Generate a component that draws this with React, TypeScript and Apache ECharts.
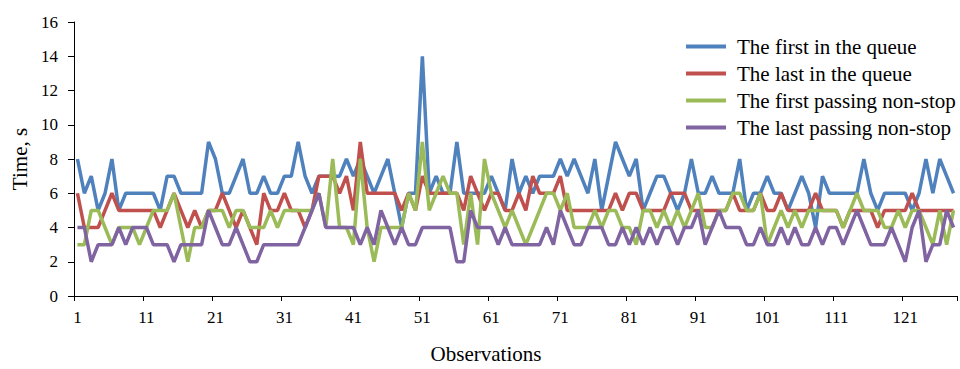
import React, { useEffect, useRef } from "react";
import * as echarts from "echarts";

const seriesNames = [
  "The first in the queue",
  "The last in the queue",
  "The first passing non-stop",
  "The last passing non-stop",
];

const observations = Array.from({ length: 128 }, (_, i) => String(i + 1));

const firstInQueue = [
  8, 6, 7, 5, 6, 8, 5, 6, 6, 6,
  6, 6, 5, 7, 7, 6, 6, 6, 6, 9,
  8, 6, 6, 7, 8, 6, 6, 7, 6, 6,
  7, 7, 9, 7, 6, 7, 7, 7, 7, 8,
  7, 8, 7, 6, 7, 8, 6, 4, 6, 6,
  14, 6, 7, 6, 6, 9, 6, 6, 6, 6,
  7, 6, 5, 8, 6, 7, 6, 7, 7, 7,
  8, 7, 8, 7, 6, 8, 5, 7, 9, 8,
  7, 8, 5, 6, 7, 7, 6, 5, 6, 8,
  6, 6, 7, 6, 6, 6, 8, 5, 6, 6,
  7, 6, 6, 5, 6, 7, 6, 4, 7, 6,
  6, 6, 6, 6, 8, 6, 5, 6, 6, 6,
  6, 5, 6, 8, 6, 8, 7, 6,
];

const lastInQueue = [
  6, 4, 4, 4, 5, 6, 5, 5, 5, 5,
  5, 5, 4, 5, 6, 5, 4, 5, 4, 5,
  5, 6, 5, 4, 5, 4, 3, 6, 5, 5,
  6, 5, 5, 4, 5, 7, 7, 7, 6, 7,
  5, 9, 6, 6, 6, 6, 6, 5, 6, 5,
  7, 6, 6, 6, 6, 6, 5, 7, 6, 5,
  6, 6, 5, 5, 6, 5, 7, 6, 6, 6,
  7, 5, 5, 5, 5, 5, 5, 5, 6, 5,
  6, 6, 5, 5, 5, 5, 6, 6, 6, 5,
  5, 5, 5, 5, 5, 6, 5, 5, 5, 6,
  5, 5, 6, 5, 5, 5, 5, 6, 5, 5,
  5, 4, 5, 5, 5, 5, 4, 5, 5, 5,
  5, 6, 5, 5, 5, 5, 5, 5,
];

const firstPassing = [
  3, 3, 5, 5, 4, 3, 4, 4, 4, 3,
  4, 5, 5, 5, 6, 4, 2, 4, 4, 5,
  5, 5, 4, 5, 5, 4, 4, 4, 5, 4,
  5, 5, 5, 5, 5, 6, 4, 8, 4, 4,
  3, 8, 4, 2, 4, 4, 4, 4, 6, 5,
  9, 5, 6, 7, 6, 6, 3, 6, 3, 8,
  6, 5, 4, 5, 4, 3, 4, 5, 6, 6,
  5, 6, 4, 4, 4, 5, 4, 5, 5, 4,
  4, 3, 5, 5, 4, 5, 4, 5, 4, 5,
  6, 4, 4, 5, 5, 6, 6, 5, 5, 6,
  3, 4, 5, 4, 5, 4, 5, 5, 5, 5,
  5, 4, 5, 6, 5, 5, 5, 4, 4, 5,
  4, 5, 5, 4, 3, 5, 3, 5,
];

const lastPassing = [
  4, 4, 2, 3, 3, 3, 4, 3, 4, 4,
  4, 3, 3, 3, 2, 3, 3, 3, 3, 5,
  4, 3, 3, 4, 3, 2, 2, 3, 3, 3,
  3, 3, 3, 4, 5, 6, 4, 4, 4, 4,
  4, 3, 4, 3, 5, 4, 3, 4, 3, 3,
  4, 4, 4, 4, 4, 2, 2, 5, 4, 4,
  4, 3, 4, 3, 3, 3, 3, 3, 4, 3,
  5, 4, 3, 3, 4, 4, 4, 3, 3, 4,
  3, 4, 3, 4, 3, 4, 4, 3, 4, 4,
  5, 3, 4, 5, 4, 4, 4, 3, 3, 4,
  3, 3, 4, 3, 4, 3, 3, 4, 3, 4,
  4, 3, 4, 5, 4, 3, 3, 3, 4, 3,
  2, 4, 5, 2, 3, 3, 5, 4,
];

const colors = ["#4F81BD", "#C0504D", "#9BBB59", "#8064A2"];
const FONT = "'Liberation Serif', 'Times New Roman', serif";

export default function App() {
  const ref = useRef<HTMLDivElement>(null);

  useEffect(() => {
    document.body.style.margin = "0";
    if (!ref.current) return;
    const chart = echarts.init(ref.current, undefined, { renderer: "svg" });
    const values = [firstInQueue, lastInQueue, firstPassing, lastPassing];
    chart.setOption({
      animation: false,
      backgroundColor: "#ffffff",
      color: colors,
      textStyle: { fontFamily: FONT, color: "#000" },
      grid: { left: 74, right: 3, top: 22, bottom: 69, containLabel: false },
      legend: {
        orient: "vertical",
        left: 681,
        top: 31,
        itemWidth: 40,
        itemHeight: 4,
        itemGap: 6,
        icon: "rect",
        textStyle: {
          fontFamily: FONT,
          fontSize: 21,
          color: "#000",
          padding: [0, 0, 0, 6],
        },
        data: seriesNames,
      },
      xAxis: {
        type: "category",
        data: observations,
        boundaryGap: true,
        name: "Observations",
        nameLocation: "middle",
        nameGap: 47,
        nameTextStyle: {
          fontFamily: FONT,
          fontSize: 21,
          color: "#000",
          padding: [0, 59, 0, 0],
        },
        axisLine: { lineStyle: { color: "#000", width: 1 } },
        axisTick: { show: true, interval: 9, length: 5, lineStyle: { color: "#000" } },
        axisLabel: {
          interval: 9,
          fontFamily: FONT,
          fontSize: 17,
          color: "#000",
          margin: 13,
        },
        splitLine: { show: false },
      },
      yAxis: {
        type: "value",
        min: 0,
        max: 16,
        interval: 2,
        name: "Time, s",
        nameLocation: "middle",
        nameRotate: 90,
        nameGap: 41,
        nameTextStyle: {
          fontFamily: FONT,
          fontSize: 21,
          color: "#000",
        },
        axisLine: { show: true, lineStyle: { color: "#000", width: 1 } },
        axisTick: { show: true, length: 6, lineStyle: { color: "#000" } },
        axisLabel: {
          fontFamily: FONT,
          fontSize: 17,
          color: "#000",
          margin: 16,
        },
        splitLine: { show: false },
      },
      series: seriesNames.map((name, k) => ({
        name,
        type: "line",
        data: values[k],
        showSymbol: false,
        symbol: "none",
        lineStyle: { width: 3.5, color: colors[k] },
        itemStyle: { color: colors[k] },
      })),
    });
    return () => chart.dispose();
  }, []);

  return (
    <div
      ref={ref}
      style={{ position: "fixed", left: 0, top: 0, width: 960, height: 369 }}
    />
  );
}
